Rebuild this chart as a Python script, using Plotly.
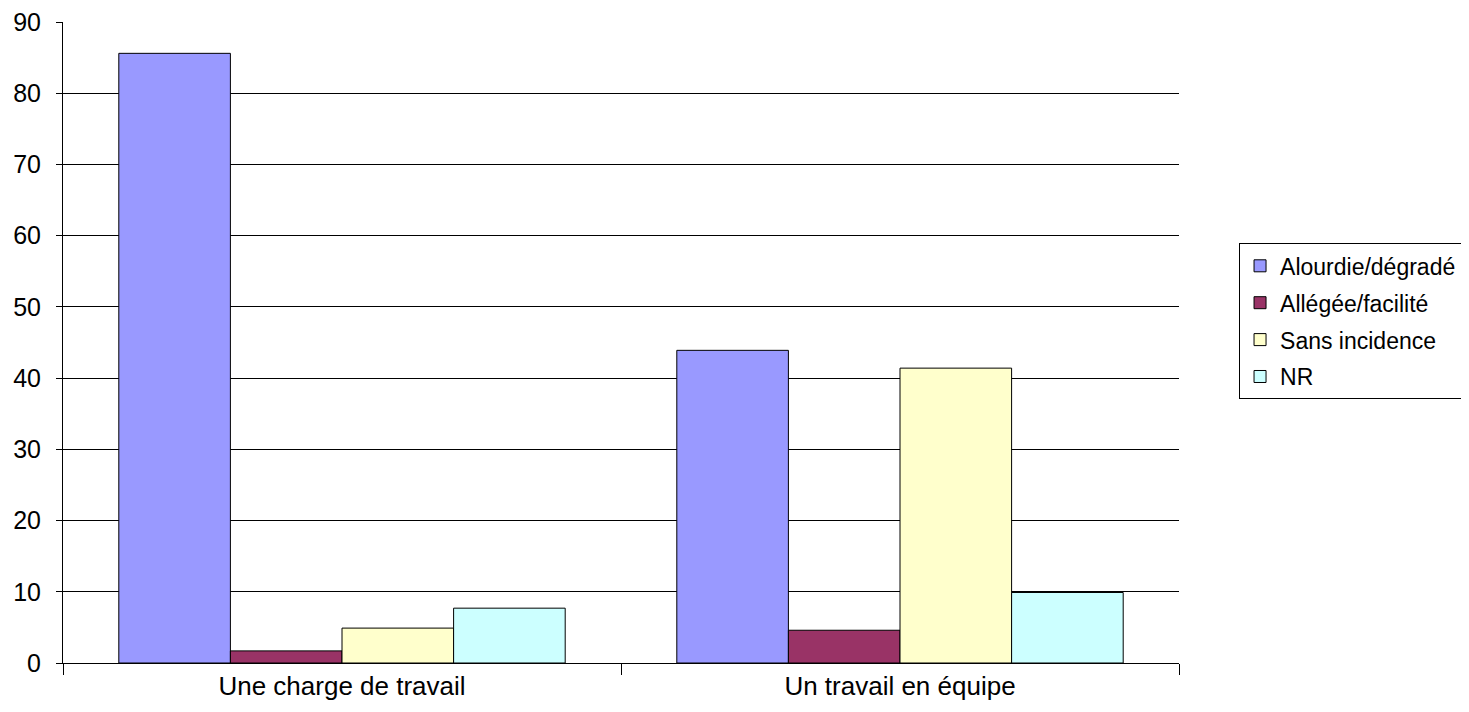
import plotly.graph_objects as go

categories = ["Une charge de travail", "Un travail en équipe"]
series_names = ["Alourdie/dégradé", "Allégée/facilité", "Sans incidence", "NR"]
alourdie = [85.6, 43.9]
allegee = [1.7, 4.6]
sans_incidence = [4.9, 41.4]
nr = [7.7, 9.9]
colors = ["#9999FF", "#993366", "#FFFFCC", "#CCFFFF"]

fig = go.Figure()
for name, vals, col in zip(series_names, [alourdie, allegee, sans_incidence, nr], colors):
    fig.add_trace(go.Bar(
        x=categories, y=vals, name=name, legendgroup=name,
        marker=dict(color=col, line=dict(color="#000000", width=1)),
    ))

fig.update_layout(
    width=1453, height=696,
    margin=dict(l=55, r=282, t=14, b=41, autoexpand=False),
    paper_bgcolor="white", plot_bgcolor="white",
    barmode="group", bargap=0.2, bargroupgap=0,
    font=dict(family="Liberation Sans, Arial, sans-serif", color="black", size=25),
    showlegend=True,
    legend=dict(
        x=1.0538, xanchor="left", y=0.533, yanchor="middle",
        bordercolor="black", borderwidth=1, bgcolor="white",
        font=dict(size=23), tracegroupgap=4, traceorder="grouped",
    ),
    xaxis=dict(
        automargin=False,
        showline=True, linecolor="black", linewidth=1,
        ticks="outside", tickson="boundaries", ticklen=11, tickcolor="black",
        showgrid=False, tickfont=dict(size=26),
    ),
    yaxis=dict(
        automargin=False,
        range=[0, 90], dtick=10, tick0=0,
        showline=True, linecolor="black", linewidth=1,
        ticks="outside", ticklen=6, tickcolor="black",
        showgrid=True, gridcolor="black", gridwidth=1,
        zeroline=True, zerolinecolor="black", zerolinewidth=1,
        tickfont=dict(size=25), ticklabelstandoff=10,
        ticklabeloverflow="allow",
    ),
)

fig.write_html("out.html")
